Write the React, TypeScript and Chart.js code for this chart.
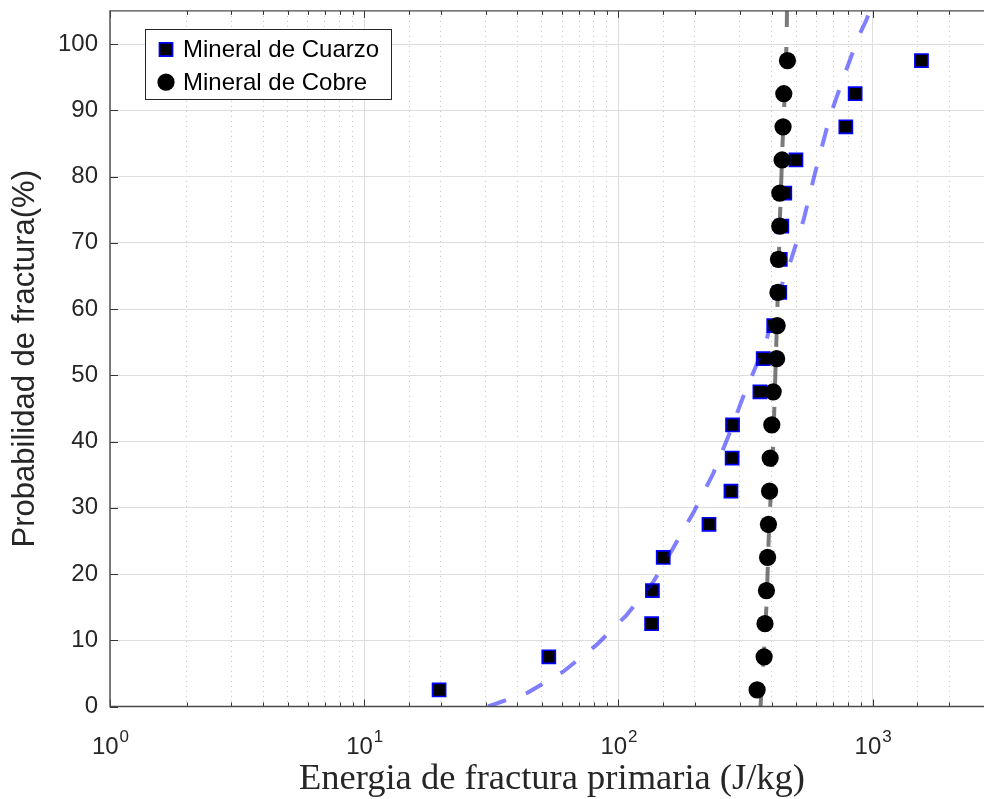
import React, { useEffect, useRef } from 'react';
import { Chart, registerables } from 'chart.js';

Chart.register(...registerables);

// ---------- data ----------
const probabilities = [2.5, 7.5, 12.5, 17.5, 22.5, 27.5, 32.5, 37.5, 42.5, 47.5, 52.5, 57.5, 62.5, 67.5, 72.5, 77.5, 82.5, 87.5, 92.5, 97.5];
const quartzEnergy = [19.7, 53.2, 135, 136, 150, 227, 277, 280, 281, 360, 371, 408, 431, 433, 439, 451, 499, 784, 853, 1555];
const copperEnergy = [351, 374, 377, 382, 386, 389, 393, 395, 401, 406, 419, 421, 424, 426, 431, 431, 440, 444, 447, 462];

const quartzFitEnergy = [30.7, 44, 60.6, 82, 107.6, 137, 164, 198, 236, 270, 309, 360, 382, 431, 479, 536, 592, 678, 765, 877, 946, 975];
const quartzFitProb = [0, 2.1, 5.25, 9.3, 13.8, 18.8, 23.9, 29.4, 35.2, 40.7, 46.7, 52.8, 55.3, 62.8, 67.6, 73.6, 80.4, 89, 94.8, 101, 103.7, 105];

const copperFitEnergy = [362, 374, 383, 390, 406, 414, 426, 431, 442, 448, 454, 459, 460];
const copperFitProb = [0, 8.5, 16, 25.6, 39.5, 50, 65.5, 73, 85, 90, 95, 101.5, 105];

const seriesLabels = ['Mineral de Cuarzo', 'Mineral de Cobre'];
const xTitle = 'Energia de fractura primaria (J/kg)';
const yTitle = 'Probabilidad de fractura(%)';
const xTickExponents = [0, 1, 2, 3];
const xMin = 1;
const xMax = 3000;
const yMin = 0;
const yMax = 105;
const yStep = 10;

const toPoints = (xs: number[], ys: number[]) => xs.map((x, i) => ({ x, y: ys[i] }));
const isMajorLog = (v: number) => {
  const l = Math.log10(v);
  return Math.abs(l - Math.round(l)) < 1e-9;
};

const TEXT = '#262626';
const SANS = "'Liberation Sans', Arial, sans-serif";
const SERIF = "'Liberation Serif', 'Times New Roman', serif";

const matlabPlugin = {
  id: 'matlabAxes',
  afterDraw(chart: any) {
    const { ctx, chartArea: a, scales } = chart;
    const xs = scales.x;
    const ys = scales.y;
    ctx.save();

    // inward tick marks
    ctx.strokeStyle = '#333333';
    ctx.lineWidth = 1;
    ctx.beginPath();
    xs.ticks.forEach((t: any) => {
      if (t.value < xMin || t.value > xMax) return;
      const px = Math.round(xs.getPixelForValue(t.value)) + 0.5;
      const len = isMajorLog(t.value) ? 7 : 4;
      ctx.moveTo(px, a.bottom);
      ctx.lineTo(px, a.bottom - len);
      ctx.moveTo(px, a.top);
      ctx.lineTo(px, a.top + len);
    });
    ys.ticks.forEach((t: any) => {
      if (t.value % yStep !== 0) return;
      const py = Math.round(ys.getPixelForValue(t.value)) + 0.5;
      ctx.moveTo(a.left, py);
      ctx.lineTo(a.left + 8, py);
    });
    ctx.stroke();

    // frame
    ctx.strokeStyle = '#4a4a4a';
    ctx.lineWidth = 1.4;
    ctx.beginPath();
    ctx.moveTo(a.right + 5, a.top);
    ctx.lineTo(a.left, a.top);
    ctx.lineTo(a.left, a.bottom);
    ctx.lineTo(a.right + 5, a.bottom);
    ctx.stroke();

    // x tick labels 10^n
    ctx.fillStyle = TEXT;
    ctx.textBaseline = 'alphabetic';
    ctx.textAlign = 'left';
    const baseFont = `24px ${SANS}`;
    const expFont = `17px ${SANS}`;
    xTickExponents.forEach((e) => {
      const px = xs.getPixelForValue(Math.pow(10, e));
      ctx.font = baseFont;
      const w1 = ctx.measureText('10').width;
      ctx.font = expFont;
      const w2 = ctx.measureText(String(e)).width;
      const start = px - (w1 + w2) / 2;
      ctx.font = baseFont;
      ctx.fillText('10', start, a.bottom + 47);
      ctx.font = expFont;
      ctx.fillText(String(e), start + w1 + 1, a.bottom + 35);
    });

    // legend
    const lx = 145.5, ly = 29.5, lw = 246, lh = 70;
    ctx.fillStyle = '#ffffff';
    ctx.fillRect(lx, ly, lw, lh);
    ctx.strokeStyle = '#262626';
    ctx.lineWidth = 1;
    ctx.strokeRect(lx, ly, lw, lh);
    const entries = chart.data.datasets.filter((d: any) => d.label);
    entries.forEach((d: any, i: number) => {
      const cy = 49.5 + i * 32.7;
      const cx = 166;
      const r = d.pointRadius;
      ctx.beginPath();
      if (d.pointStyle === 'rect') {
        const s = Math.SQRT1_2 * r;
        ctx.rect(cx - s, cy - s, 2 * s, 2 * s);
      } else {
        ctx.arc(cx, cy, r, 0, Math.PI * 2);
      }
      ctx.fillStyle = d.pointBackgroundColor;
      ctx.fill();
      if (d.pointBorderWidth) {
        ctx.lineWidth = d.pointBorderWidth;
        ctx.strokeStyle = d.pointBorderColor;
        ctx.stroke();
      }
      ctx.fillStyle = '#000000';
      ctx.font = `24px ${SANS}`;
      ctx.textBaseline = 'middle';
      ctx.fillText(d.label, 183, cy + 1);
    });

    ctx.restore();
  },
};

export default function App() {
  const canvasRef = useRef<HTMLCanvasElement | null>(null);

  useEffect(() => {
    if (!canvasRef.current) return;
    const chart = new Chart(canvasRef.current, {
      type: 'scatter',
      data: {
        datasets: [
          {
            label: seriesLabels[0],
            data: toPoints(quartzEnergy, probabilities),
            showLine: false,
            pointStyle: 'rect',
            pointRadius: 9.3,
            pointBackgroundColor: '#000000',
            pointBorderColor: '#0000ff',
            pointBorderWidth: 1.6,
            order: 3,
          } as any,
          {
            label: seriesLabels[1],
            data: toPoints(copperEnergy, probabilities),
            showLine: false,
            pointStyle: 'circle',
            pointRadius: 8.6,
            pointBackgroundColor: '#000000',
            pointBorderColor: '#000000',
            pointBorderWidth: 0,
            order: 0,
          } as any,
          {
            label: '',
            data: toPoints(quartzFitEnergy, quartzFitProb),
            showLine: true,
            pointRadius: 0,
            borderColor: 'rgba(0,0,255,0.5)',
            borderWidth: 4,
            borderDash: [19, 21],
            tension: 0,
            clip: 0,
            order: 2,
          } as any,
          {
            label: '',
            data: toPoints(copperFitEnergy, copperFitProb),
            showLine: true,
            pointRadius: 0,
            borderColor: 'rgba(40,40,40,0.62)',
            borderWidth: 4,
            borderDash: [20, 20],
            tension: 0,
            clip: 0,
            order: 1,
          } as any,
        ],
      },
      options: {
        animation: false,
        responsive: false,
        events: [],
        layout: { padding: { top: 10.5, right: 16, left: 0, bottom: 0 } },
        plugins: {
          legend: { display: false },
          tooltip: { enabled: false },
        },
        scales: {
          x: {
            type: 'logarithmic',
            min: xMin,
            max: xMax,
            position: 'bottom',
            ticks: { display: false },
            grid: {
              drawTicks: false,
              lineWidth: 1,
              color: (c: any) => (c.tick && isMajorLog(c.tick.value) ? '#dedede' : '#c4c4c4'),
            },
            border: {
              display: false,
              dash: (c: any) => (c.tick && isMajorLog(c.tick.value) ? [] : [1, 4]),
            },
            title: {
              display: true,
              text: xTitle,
              color: TEXT,
              font: { family: SERIF, size: 36.5, lineHeight: 1 },
              padding: { top: 0, bottom: 1 },
            },
            afterFit: (s: any) => {
              s.height = 92.5;
              s.paddingLeft = 0;
              s.paddingRight = 0;
            },
          },
          y: {
            type: 'linear',
            min: yMin,
            max: yMax,
            ticks: {
              stepSize: yStep,
              includeBounds: false,
              color: TEXT,
              padding: 12,
              font: { family: SANS, size: 24 },
              callback: (v: any) => (Number(v) % yStep === 0 ? String(v) : ''),
            },
            grid: { drawTicks: false, color: '#dedede', lineWidth: 1 },
            border: { display: false },
            title: {
              display: true,
              text: yTitle,
              color: TEXT,
              font: { family: SANS, size: 31 },
              padding: { top: 7, bottom: 0 },
            },
            afterFit: (s: any) => {
              s.width = 110;
              s.paddingTop = 0;
              s.paddingBottom = 0;
            },
          },
        },
      } as any,
      plugins: [matlabPlugin],
    });
    return () => chart.destroy();
  }, []);

  return (
    <div
      style={{
        position: 'absolute',
        left: 0,
        top: 0,
        width: 984,
        height: 799,
        overflow: 'hidden',
        background: '#ffffff',
      }}
    >
      <canvas ref={canvasRef} width={1010} height={799} style={{ display: 'block' }} />
    </div>
  );
}
